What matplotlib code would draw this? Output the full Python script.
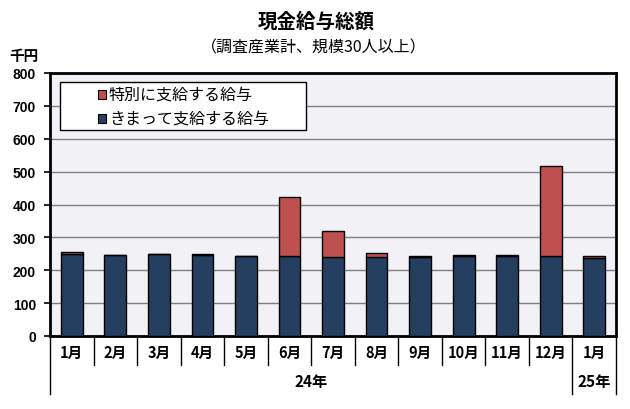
import matplotlib
matplotlib.use("Agg")
import matplotlib.pyplot as plt
from matplotlib.patches import Rectangle
import numpy as np

plt.rcParams['font.family'] = ['Noto Sans CJK JP', 'DejaVu Sans']

months = ["1月", "2月", "3月", "4月", "5月", "6月", "7月", "8月", "9月", "10月", "11月", "12月", "1月"]
years = ["24年", "25年"]
year_spans = [(0, 12), (12, 13)]
regular = [250, 245, 248, 245, 242, 244, 241, 240, 241, 244, 244, 244, 238]
special = [6, 2, 2, 5, 2, 179, 78, 13, 3, 3, 3, 273, 6]
legend_labels = ["特別に支給する給与", "きまって支給する給与"]
yticks = [0, 100, 200, 300, 400, 500, 600, 700, 800]

c_reg = "#243F60"
c_spc = "#C0504D"

fig = plt.figure(figsize=(6.3, 4.1), dpi=100)
ax = fig.add_axes([50/630, (410-337)/410, 566/630, 263/410])
ax.set_facecolor("#F2F1F5")

x = np.arange(len(months))
ax.bar(x, regular, width=0.5, color=c_reg, edgecolor="black", linewidth=1, zorder=3)
ax.bar(x, special, bottom=regular, width=0.5, color=c_spc, edgecolor="black", linewidth=1, zorder=3)

ax.set_xlim(-0.5, len(months) - 0.5)
ax.set_ylim(0, 800)
ax.set_yticks(yticks)
ax.set_yticklabels([str(v) for v in yticks], fontsize=10, fontweight='bold',
                   family=['Liberation Sans', 'DejaVu Sans'])
ax.yaxis.grid(True, color="#808080", linewidth=1, zorder=0)
ax.set_axisbelow(True)
ax.tick_params(axis='y', direction='out', length=4, width=1.2, pad=6)
ax.set_xticks([])
for s in ax.spines.values():
    s.set_linewidth(2)
    s.set_color("black")

# x-axis category area
trans = ax.get_xaxis_transform()
boundaries_outer = {0, 12, 13}
for b in range(len(months) + 1):
    depth = -0.22 if b in boundaries_outer else -0.112
    ax.plot([b - 0.5, b - 0.5], [0, depth], transform=trans, color="black",
            linewidth=1, clip_on=False)
for i, m in enumerate(months):
    ax.text(i, -0.062, m, transform=trans, ha='center', va='center', fontsize=10.5,
            fontweight='bold')
for (a, b), yl in zip(year_spans, years):
    ax.text((a + b - 1) / 2, -0.172, yl, transform=trans, ha='center', va='center',
            fontsize=11, fontweight='bold')

# legend box
def fx(px):
    return (px - 50) / 566
def fy(py):
    return (337 - py) / 263
ax.add_patch(Rectangle((fx(60), fy(131)), fx(306) - fx(60), fy(83) - fy(131),
                       transform=ax.transAxes, facecolor="white", edgecolor="black",
                       linewidth=1, zorder=5))
for yy, col, lab in [(95.5, c_spc, legend_labels[0]), (119.5, c_reg, legend_labels[1])]:
    ax.add_patch(Rectangle((fx(98), fy(yy + 4)), 8/566, 8/263, transform=ax.transAxes,
                           facecolor=col, edgecolor="black", linewidth=0.8, zorder=6))
    ax.text(fx(109), fy(yy), lab, transform=ax.transAxes, ha='left', va='center',
            fontsize=11.5, zorder=7)

fig.text(316/630, 1 - 22/410, "現金給与総額", ha='center', va='center', fontsize=14,
         fontweight='bold')
fig.text(314/630, 1 - 48/410, "（調査産業計、規模30人以上）", ha='center', va='center',
         fontsize=11.5)
fig.text(24/630, 1 - 56/410, "千円", ha='center', va='center', fontsize=10.5,
         fontweight='bold')

fig.savefig("out.png", dpi=100)
